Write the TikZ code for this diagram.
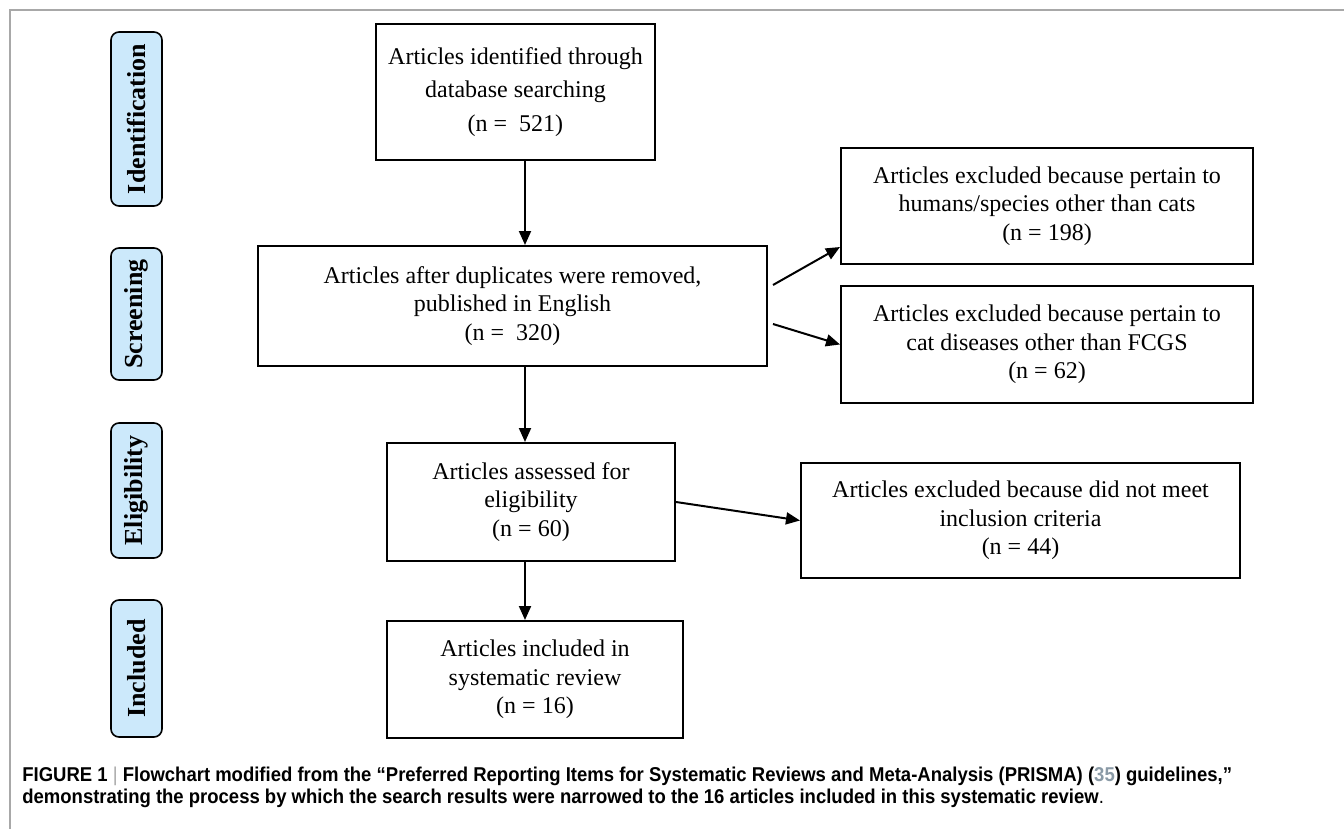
\documentclass[tikz,border=0pt]{standalone}
\usepackage{fontspec}
\setmainfont{Liberation Serif}
\newfontfamily\capfont[FakeStretch=0.925]{Liberation Sans}
\usetikzlibrary{arrows.meta,calc}
\definecolor{stagefill}{HTML}{CCE9FB}
\definecolor{framegray}{HTML}{A8A8A8}
\definecolor{refgray}{HTML}{8A9AA6}

\begin{document}
\begin{tikzpicture}[x=0.5pt,y=-0.5pt,
	box/.style={draw=black,line width=1pt,align=center,inner sep=0pt,font=\fontsize{12}{14.25}\selectfont},
	stage/.style={draw=black,fill=stagefill,line width=0.8pt,rounded corners=4pt,rotate=90,minimum height=25.5pt,inner sep=0pt,font=\fontsize{13}{15}\selectfont\bfseries},
	arr/.style={-{Triangle[length=7pt,width=6pt]},line width=1pt}]
	\useasboundingbox (0,0) rectangle (1344,829);
	\draw[framegray,line width=0.75pt] (10,829) -- (10,10) -- (1344,10);

	\node[stage,minimum width=87pt] (sIdent) at (136.5,119) {Identification};
	\node[stage,minimum width=66pt] (sScreen) at (136.5,314) {Screening};
	\node[stage,minimum width=67.5pt] (sElig) at (136.5,490.5) {Eligibility};
	\node[stage,minimum width=68.5pt] (sIncl) at (136.5,668.5) {Included};

	\node[box,minimum width=139.5pt,minimum height=68pt] (ident) at (515.5,92) {Articles identified through\\[2.5pt]database searching\\[2.5pt](n = \ 521)};
	\node[box,minimum width=254.5pt,minimum height=60pt] (dup) at (512.5,306) {Articles after duplicates were removed,\\published in English\\(n = \ 320)};
	\node[box,minimum width=206pt,minimum height=58pt] (exclA) at (1047,206) {Articles excluded because pertain to\\humans/species other than cats\\(n = 198)};
	\node[box,minimum width=206pt,minimum height=58.5pt] (exclB) at (1047,344.5) {Articles excluded because pertain to\\cat diseases other than FCGS\\(n = 62)};
	\node[box,minimum width=144pt,minimum height=59pt] (elig) at (531,502) {Articles assessed for\\eligibility\\(n = 60)};
	\node[box,minimum width=219.5pt,minimum height=57.5pt] (exclC) at (1020.5,520.5) {Articles excluded because did not meet\\inclusion criteria\\(n = 44)};
	\node[box,minimum width=148pt,minimum height=58.5pt] (incl) at (535,679.5) {Articles included in\\systematic review\\(n = 16)};

	\coordinate (spine) at (525,0);
	\coordinate (dupA) at (773,285);
	\coordinate (dupB) at (773,324);
	\draw[arr] (ident.south -| spine) -- (dup.north -| spine);
	\draw[arr] (dupA) -- ($(exclA.west)+(0,41)$);
	\draw[arr] (dupB) -- (exclB.west);
	\draw[arr] (dup.south -| spine) -- (elig.north -| spine);
	\draw[arr] (elig.east) -- (exclC.west);
	\draw[arr] (elig.south -| spine) -- (incl.north -| spine);

	\node[anchor=north west,align=left,inner sep=0pt,font=\capfont\fontsize{10}{11}\selectfont\bfseries] (caption) at (22,767) {FIGURE 1 {\color{framegray}\mdseries|} Flowchart modified from the “Preferred Reporting Items for Systematic Reviews and Meta-Analysis (PRISMA) ({\color{refgray}35}) guidelines,”\\demonstrating the process by which the search results were narrowed to the 16 articles included in this systematic review{\mdseries .}};
\end{tikzpicture}
\end{document}
